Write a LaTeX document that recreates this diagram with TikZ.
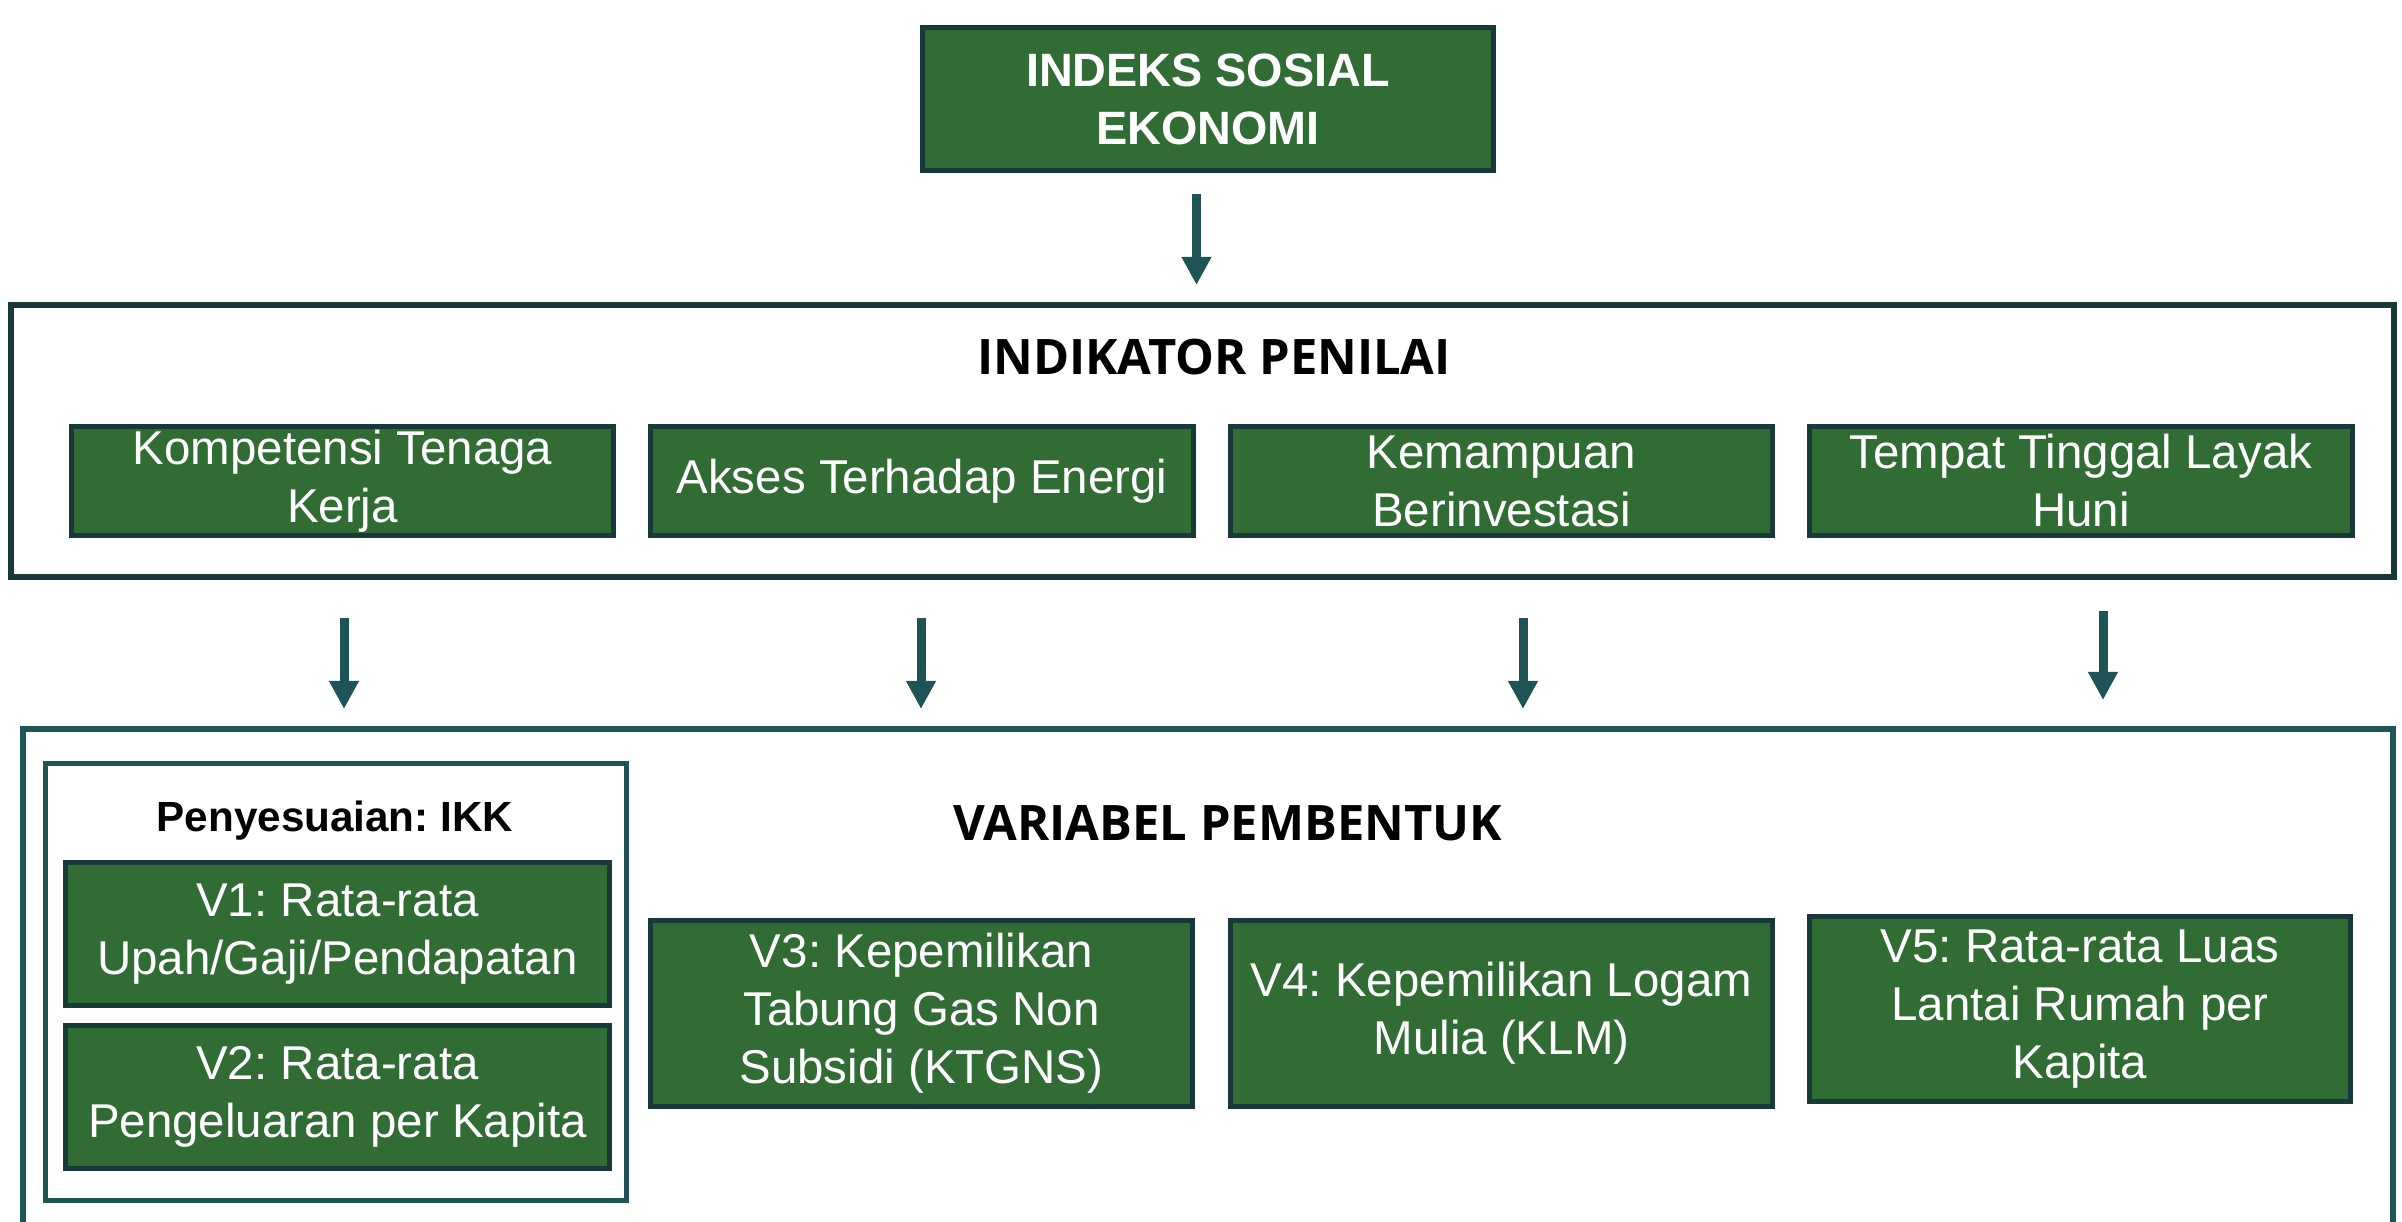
\documentclass[tikz,border=0pt]{standalone}
\usepackage{fontspec}
\setmainfont{Liberation Sans}
\newfontfamily\headfont{Open Sans}
\usetikzlibrary{arrows.meta}
\definecolor{boxgreen}{HTML}{326C35}
\definecolor{dkborder}{HTML}{17393A}
\definecolor{tealc}{HTML}{1E5456}
\begin{document}
\frenchspacing
\begin{tikzpicture}[x=0.01cm,y=-0.01cm,
  greenbox/.style={draw=dkborder, fill=boxgreen, line width=0.05cm, text=white, align=center, inner sep=0pt, font=\fontsize{13.5}{16.5}\selectfont},
  topbox/.style={greenbox, font=\bfseries\fontsize{13.3}{16.5}\selectfont},
  darkframe/.style={draw=dkborder, line width=0.06cm, inner sep=0pt},
  tealframe/.style={draw=tealc, line width=0.05cm, inner sep=0pt},
  heading/.style={font=\headfont\bfseries\fontsize{13.9}{16}\selectfont, inner sep=0pt},
  subheading/.style={font=\bfseries\fontsize{12}{14}\selectfont, inner sep=0pt},
  arr/.style={draw=tealc, line width=0.09cm, -{Triangle[length=0.28cm,width=0.28cm]}}
]
\useasboundingbox (0,0) rectangle (2402,1222);

% top
\node[topbox, minimum width=5.71cm, minimum height=1.43cm] (ise) at (1208,99) {INDEKS SOSIAL\\EKONOMI};

% indikator container
\node[darkframe, minimum width=23.81cm, minimum height=2.72cm] (indbox) at (1202.5,441) {};
\node[heading] (indhead) at (1214,357) {INDIKATOR PENILAI};
\node[greenbox, minimum width=5.42cm, minimum height=1.09cm] (i1) at (342.5,481) {Kompetensi Tenaga\\Kerja};
\node[greenbox, minimum width=5.42cm, minimum height=1.09cm] (i2) at (922,481) {Akses Terhadap Energi};
\node[greenbox, minimum width=5.42cm, minimum height=1.09cm] (i3) at (1501.5,481) {Kemampuan\\Berinvestasi};
\node[greenbox, minimum width=5.42cm, minimum height=1.09cm] (i4) at (2081,481) {Tempat Tinggal Layak\\Huni};

% variabel container (open at the bottom)
\draw[draw=tealc, line width=0.06cm] (23,1222) -- (23,729) -- (2393,729) -- (2393,1222);
\node[heading] (varhead) at (1228,823.5) {VARIABEL PEMBENTUK};

% penyesuaian group
\node[tealframe, minimum width=5.81cm, minimum height=4.37cm] (ikkbox) at (336,982) {};
\node[subheading, anchor=base] (ikkhead) at (335,832) {Penyesuaian: IKK};
\node[greenbox, minimum width=5.44cm, minimum height=1.42cm] (v1) at (337.5,934) {V1: Rata-rata\\Upah/Gaji/Pendapatan};
\node[greenbox, minimum width=5.44cm, minimum height=1.43cm] (v2) at (337.5,1097) {V2: Rata-rata\\Pengeluaran per Kapita};

\node[greenbox, minimum width=5.42cm, minimum height=1.86cm] (v3) at (921.5,1013.5) {V3: Kepemilikan\\Tabung Gas Non\\Subsidi (KTGNS)};
\node[greenbox, minimum width=5.42cm, minimum height=1.86cm] (v4) at (1501.5,1013.5) {V4: Kepemilikan Logam\\Mulia (KLM)};
\node[greenbox, minimum width=5.41cm, minimum height=1.85cm] (v5) at (2080,1009) {V5: Rata-rata Luas\\Lantai Rumah per\\Kapita};

% arrows
\coordinate (a0s) at (1196.5,194);
\coordinate (a0e) at (1196.5,285);
\coordinate (a1s) at (344,618);
\coordinate (a1e) at (344,709);
\coordinate (a2s) at (921,618);
\coordinate (a2e) at (921,709);
\coordinate (a3s) at (1523,618);
\coordinate (a3e) at (1523,709);
\coordinate (a4s) at (2103,611);
\coordinate (a4e) at (2103,700);
\draw[arr] (a0s) -- (a0e);
\draw[arr] (a1s) -- (a1e);
\draw[arr] (a2s) -- (a2e);
\draw[arr] (a3s) -- (a3e);
\draw[arr] (a4s) -- (a4e);
\end{tikzpicture}
\end{document}
